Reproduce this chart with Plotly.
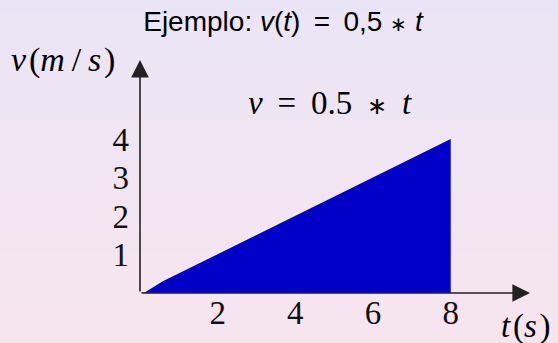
import plotly.graph_objects as go

# ---- data ----
t_values = [0, 0.12, 0.6, 8]
v_values = [0, 0.01, 0.31, 4]
x_tick_vals = [2, 4, 6, 8]
x_tick_text = ["2", "4", "6", "8"]
y_tick_vals = [1, 2, 3, 4]
y_tick_text = ["1", "2", "3", "4"]

AST_T = '<span style="font-size:20px">∗</span>'
AST_M = '<span style="font-size:24px">∗</span>'
TS = "\u2009"  # thin space for math-like spacing
HS = "\u200a"  # hair space
title_text = ("Ejemplo: <i>v</i>(<i>t</i>)" + TS + " = " + TS + "0,5 " + AST_T + " <i>t</i>")
y_label = "<i>v</i>" + HS + "(<i>m</i>" + TS + "/" + TS + "<i>s</i>" + HS + ")"
x_label = "<i>t</i>" + HS + "(<i>s</i>" + HS + ")"
curve_label = "<i>v</i>" + TS + " = " + TS + "0.5 " + TS + AST_M + TS + " <i>t</i>"

# ---- layout geometry ----
W, H = 558, 343
L, R, T, B = 140, 28, 60, 50
PW, PH = W - L - R, H - T - B
XMAX = PW / 38.84
YMAX = PH / 38.5

SERIF = "Liberation Serif, Times New Roman, serif"
SANS = "Liberation Sans, Arial, sans-serif"

fig = go.Figure()
fig.add_trace(go.Scatter(
    x=t_values, y=v_values, mode="lines", fill="tozeroy",
    fillcolor="rgb(0,0,200)", line=dict(width=0, color="rgb(0,0,200)"),
    hoverinfo="skip", showlegend=False,
))

# background gradient strips (lavender top -> pink bottom)
top_c = (234, 229, 246)
bot_c = (247, 229, 238)
n = 49
shapes = []
for i in range(n):
    f = i / (n - 1)
    c = tuple(round(top_c[k] + (bot_c[k] - top_c[k]) * f) for k in range(3))
    py0 = H * i / n
    py1 = H * (i + 1) / n + 0.5
    shapes.append(dict(
        type="rect", xref="paper", yref="paper", layer="below",
        x0=-1, x1=2,
        y0=(H - B - py1) / PH, y1=(H - B - py0) / PH,
        fillcolor="rgb(%d,%d,%d)" % c, line=dict(width=0),
    ))

def px(xp):
    return (xp - L) / PW

def py(yp):
    return (H - B - yp) / PH

annotations = [
    # x axis arrow
    dict(x=XMAX, y=0, ax=0, ay=0, xref="x", yref="y", axref="x", ayref="y",
         text="", showarrow=True, arrowhead=2, arrowsize=2.2, arrowwidth=1.6,
         arrowcolor="#222222", standoff=0),
    # y axis arrow
    dict(x=0, y=YMAX, ax=0, ay=0, xref="x", yref="y", axref="x", ayref="y",
         text="", showarrow=True, arrowhead=2, arrowsize=2.2, arrowwidth=1.6,
         arrowcolor="#222222", standoff=0),
    dict(x=px(63), y=py(60), xref="paper", yref="paper", text=y_label,
         showarrow=False, xanchor="center", yanchor="middle",
         font=dict(family=SERIF, size=34, color="black")),
    dict(x=px(526), y=py(326), xref="paper", yref="paper", text=x_label,
         showarrow=False, xanchor="center", yanchor="middle",
         font=dict(family=SERIF, size=33, color="black")),
    dict(x=px(330), y=py(103), xref="paper", yref="paper", text=curve_label,
         showarrow=False, xanchor="center", yanchor="middle",
         font=dict(family=SERIF, size=33, color="black")),
]

fig.update_layout(
    width=W, height=H,
    margin=dict(l=L, r=R, t=T, b=B, autoexpand=False),
    paper_bgcolor="rgb(240,229,242)",
    plot_bgcolor="rgba(0,0,0,0)",
    title=dict(text=title_text, x=283 / W, xref="container", xanchor="center",
               y=1 - 21 / H, yref="container", yanchor="middle",
               font=dict(family=SANS, size=28, color="black")),
    xaxis=dict(range=[0, XMAX], showgrid=False, zeroline=False, showline=False,
               ticks="", tickvals=x_tick_vals, ticktext=x_tick_text,
               tickfont=dict(family=SERIF, size=33, color="#111111"),
               ticklabelstandoff=-3, automargin=False, fixedrange=True),
    yaxis=dict(range=[0, YMAX], showgrid=False, zeroline=False, showline=False,
               ticks="", tickvals=y_tick_vals, ticktext=y_tick_text,
               tickfont=dict(family=SERIF, size=33, color="#111111"),
               ticklabelstandoff=10, automargin=False, fixedrange=True),
    shapes=shapes,
    annotations=annotations,
    showlegend=False,
)

fig.write_html(
    "out.html",
    config={"displayModeBar": False},
    post_script="document.body.style.margin='0';document.body.style.overflow='hidden';",
)
